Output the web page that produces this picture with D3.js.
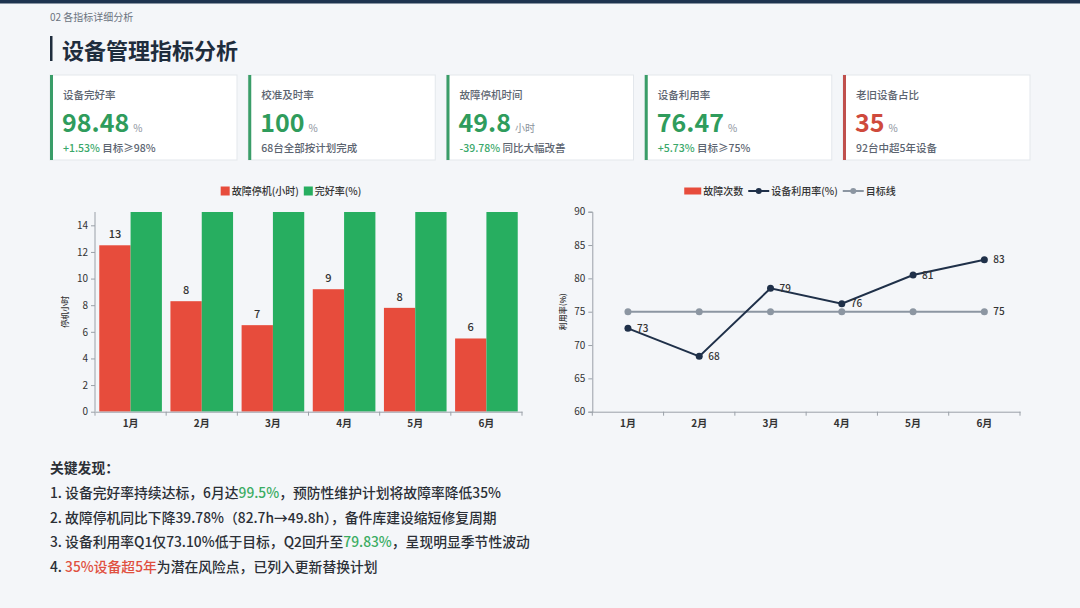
<!DOCTYPE html>
<html>
<head>
<meta charset="utf-8">
<script src="https://cdn.jsdelivr.net/npm/d3@7"></script>
<style>
  html, body { margin: 0; padding: 0; background: #f4f6f9; }
  svg { display: block; font-family: "Noto Sans CJK SC", "Noto Sans", sans-serif; }
</style>
</head>
<body>
<svg id="page" width="1080" height="608"></svg>
<script>
// ---- data ----
var months = ["1月","2月","3月","4月","5月","6月"];
var downtimeHours = [12.5, 8.3, 6.5, 9.2, 7.8, 5.5];
var intactRate = [97.6, 98.2, 98.5, 98.3, 98.8, 99.5];
var utilRate = [72.5, 68.3, 78.5, 76.2, 80.5, 82.8];
var targetLine = [75, 75, 75, 75, 75, 75];
var leftTicks = [0, 2, 4, 6, 8, 10, 12, 14];
var rightTicks = [60, 65, 70, 75, 80, 85, 90];

var kpiLabels = ["设备完好率","校准及时率","故障停机时间","设备利用率","老旧设备占比"];
var kpiValues = ["98.48","100","49.8","76.47","35"];
var kpiUnits = ["%","%","小时","%","%"];
var kpiDelta = ["+1.53%","","-39.78%","+5.73%",""];
var kpiNotes = ["目标≥98%","68台全部按计划完成","同比大幅改善","目标≥75%","92台中超5年设备"];
var kpiAlert = [false,false,false,false,true];

var findings = [
  [["1. 设备完好率持续达标，6月达",""],["99.5%","g"],["，预防性维护计划将故障率降低35%",""]],
  [["2. 故障停机同比下降39.78%（82.7h→49.8h），备件库建设缩短修复周期",""]],
  [["3. 设备利用率Q1仅73.10%低于目标，Q2回升至",""],["79.83%","g"],["，呈现明显季节性波动",""]],
  [["4. ",""],["35%设备超5年","r"],["为潜在风险点，已列入更新替换计划",""]]
];

var RED = "#e74c3c", GREEN = "#27ae60", NAVY = "#1f3049", GREYLINE = "#8c96a2";

var svg = d3.select("#page");

// top bar + header
svg.append("rect").attr("x", 0).attr("y", 0).attr("width", 1080).attr("height", 3.5).attr("fill", "#1e3450");
svg.append("text").attr("x", 50).attr("y", 21).attr("font-size", 10).attr("fill", "#6b7380").text("02 各指标详细分析");
svg.append("rect").attr("x", 50).attr("y", 36).attr("width", 2.5).attr("height", 25).attr("fill", "#1f2d3d");
svg.append("text").attr("x", 62).attr("y", 59).attr("font-size", 22).attr("font-weight", 700)
  .attr("fill", "#1f2d3d").text("设备管理指标分析");

// ---- KPI cards ----
var cardW = 187, cardH = 85;
var cardX = d3.scaleLinear().domain([0, 4]).range([50, 843]);
kpiLabels.forEach(function(label, i) {
  var x = cardX(i), y = 75;
  var g = svg.append("g").attr("transform", "translate(" + x + "," + y + ")");
  g.append("rect").attr("width", cardW).attr("height", cardH).attr("fill", "#fff")
    .attr("stroke", "#e3e7ec").attr("stroke-width", 1);
  g.append("rect").attr("width", 3).attr("height", cardH).attr("fill", kpiAlert[i] ? "#c0504d" : "#3a9d68");
  g.append("text").attr("x", 13).attr("y", 24).attr("font-size", 10.5).attr("font-weight", 500)
    .attr("fill", "#5c6470").text(label);
  var v = g.append("text").attr("x", 12).attr("y", 57).attr("font-size", 25).attr("font-weight", 700)
    .attr("fill", kpiAlert[i] ? "#cf4a3c" : "#2f9c5c").text(kpiValues[i]);
  var vw = v.node().getComputedTextLength();
  g.append("text").attr("x", 12 + vw + 4).attr("y", 57).attr("font-size", 10)
    .attr("fill", "#8a919b").text(kpiUnits[i]);
  var note = g.append("text").attr("x", 13).attr("y", 77).attr("font-size", 10.5).attr("font-weight", 500);
  if (kpiDelta[i]) note.append("tspan").attr("fill", "#3aa86a").text(kpiDelta[i] + " ");
  note.append("tspan").attr("fill", "#5c6470").text(kpiNotes[i]);
});

// legend helper
function legend(items, centerX, cy) {
  var g = svg.append("g");
  var x = 0;
  items.forEach(function(it) {
    if (it.type === "square") {
      g.append("rect").attr("x", x).attr("y", cy - 4.5).attr("width", 9).attr("height", 9).attr("fill", it.color);
      x += 11;
    } else if (it.type === "wide") {
      g.append("rect").attr("x", x).attr("y", cy - 3.5).attr("width", 17).attr("height", 7).attr("fill", it.color);
      x += 19;
    } else {
      g.append("line").attr("x1", x).attr("x2", x + 21).attr("y1", cy).attr("y2", cy)
        .attr("stroke", it.color).attr("stroke-width", 2);
      g.append("circle").attr("cx", x + 10.5).attr("cy", cy).attr("r", 3).attr("fill", it.color);
      x += 23;
    }
    var t = g.append("text").attr("x", x).attr("y", cy + 3.5).attr("font-size", 10).attr("font-weight", 500)
      .attr("fill", "#333").text(it.label);
    x += t.node().getComputedTextLength() + 5;
  });
  var w = x - 5;
  g.attr("transform", "translate(" + (centerX - w / 2) + ",0)");
}

function styleAxis(ax) {
  ax.select(".domain").attr("stroke", "#9aa0a8");
  ax.selectAll(".tick line").attr("stroke", "#9aa0a8");
  ax.selectAll("text").attr("fill", "#333").attr("font-family", "Noto Sans CJK SC, sans-serif");
}

// ---- left chart: downtime + intact rate ----
(function() {
  var left = 95, right = 522, top = 212, bottom = 411.7;
  var x = d3.scaleBand().domain(months).range([left, right]).paddingInner(0.12).paddingOuter(0.06);
  var sub = d3.scaleBand().domain([0, 1]).range([0, x.bandwidth()]);
  var y = d3.scaleLinear().domain([0, 15]).range([bottom, top]);

  svg.append("clipPath").attr("id", "clipL").append("rect")
    .attr("x", left).attr("y", top).attr("width", right - left).attr("height", bottom - top);

  var bars = svg.append("g").attr("clip-path", "url(#clipL)");
  bars.selectAll(".red").data(downtimeHours).enter().append("rect")
    .attr("x", function(d, i) { return x(months[i]) + sub(0); })
    .attr("y", function(d) { return y(d); })
    .attr("width", sub.bandwidth())
    .attr("height", function(d) { return y(0) - y(d); })
    .attr("fill", RED);
  bars.selectAll(".green").data(intactRate).enter().append("rect")
    .attr("x", function(d, i) { return x(months[i]) + sub(1); })
    .attr("y", function(d) { return y(d); })
    .attr("width", sub.bandwidth())
    .attr("height", function(d) { return y(0) - y(d); })
    .attr("fill", GREEN);

  svg.selectAll(".redlbl").data(downtimeHours).enter().append("text")
    .attr("x", function(d, i) { return x(months[i]) + sub(0) + sub.bandwidth() / 2; })
    .attr("y", function(d) { return y(d) - 7; })
    .attr("text-anchor", "middle").attr("font-size", 11).attr("font-weight", 500).attr("fill", "#333")
    .text(function(d) { return Math.round(d); });

  var yAx = svg.append("g").attr("transform", "translate(" + left + ",0)")
    .call(d3.axisLeft(y).tickValues(leftTicks).tickSize(4).tickPadding(3));
  yAx.select(".domain").attr("d", "M0," + bottom + "V" + top);
  yAx.selectAll("text").attr("font-size", 10);
  styleAxis(yAx);

  var xAx = svg.append("g").attr("transform", "translate(0," + bottom + ")")
    .call(d3.axisBottom(x).tickSize(0).tickPadding(8));
  xAx.selectAll("text").attr("font-size", 10).attr("font-weight", 700);
  styleAxis(xAx);
  // boundary ticks between categories
  var bounds = d3.range(months.length + 1).map(function(i) { return left + i * (right - left) / months.length; });
  xAx.selectAll(".bt").data(bounds).enter().append("line")
    .attr("x1", function(d) { return d; }).attr("x2", function(d) { return d; })
    .attr("y1", 0).attr("y2", 4).attr("stroke", "#9aa0a8");

  svg.append("text").attr("transform", "translate(68," + ((top + bottom) / 2) + ") rotate(-90)")
    .attr("text-anchor", "middle").attr("font-size", 8).attr("font-weight", 500).attr("fill", "#333").text("停机小时");

  legend([
    {type: "square", color: RED, label: "故障停机(小时)"},
    {type: "square", color: GREEN, label: "完好率(%)"}
  ], 291, 191);
})();

// ---- right chart: utilisation ----
(function() {
  var left = 592.3, right = 1020, top = 211.7, bottom = 411.7;
  var x = d3.scaleBand().domain(months).range([left, right]);
  var cx = function(i) { return x(months[i]) + x.bandwidth() / 2; };
  var y = d3.scaleLinear().domain([60, 90]).range([bottom, top]);

  var yAx = svg.append("g").attr("transform", "translate(" + left + ",0)")
    .call(d3.axisLeft(y).tickValues(rightTicks).tickSize(4).tickPadding(3));
  yAx.selectAll("text").attr("font-size", 10);
  styleAxis(yAx);

  var xAx = svg.append("g").attr("transform", "translate(0," + bottom + ")")
    .call(d3.axisBottom(x).tickSize(0).tickPadding(8));
  xAx.selectAll("text").attr("font-size", 10).attr("font-weight", 700);
  styleAxis(xAx);
  var bounds = d3.range(months.length + 1).map(function(i) { return left + i * (right - left) / months.length; });
  xAx.selectAll(".bt").data(bounds).enter().append("line")
    .attr("x1", function(d) { return d; }).attr("x2", function(d) { return d; })
    .attr("y1", 0).attr("y2", 4).attr("stroke", "#9aa0a8");

  var line = d3.line().x(function(d, i) { return cx(i); }).y(function(d) { return y(d); });

  svg.append("path").datum(targetLine).attr("d", line).attr("fill", "none")
    .attr("stroke", GREYLINE).attr("stroke-width", 2);
  svg.selectAll(".tdot").data(targetLine).enter().append("circle")
    .attr("cx", function(d, i) { return cx(i); }).attr("cy", function(d) { return y(d); })
    .attr("r", 3.5).attr("fill", GREYLINE);
  svg.append("text").attr("x", cx(targetLine.length - 1) + 9).attr("y", y(targetLine[targetLine.length - 1]) + 3.5)
    .attr("font-size", 10).attr("font-weight", 500).attr("fill", "#333").text(targetLine[targetLine.length - 1]);

  svg.append("path").datum(utilRate).attr("d", line).attr("fill", "none")
    .attr("stroke", NAVY).attr("stroke-width", 2);
  svg.selectAll(".udot").data(utilRate).enter().append("circle")
    .attr("cx", function(d, i) { return cx(i); }).attr("cy", function(d) { return y(d); })
    .attr("r", 3.5).attr("fill", NAVY);
  svg.selectAll(".ulbl").data(utilRate).enter().append("text")
    .attr("x", function(d, i) { return cx(i) + 9; }).attr("y", function(d) { return y(d) + 3.5; })
    .attr("font-size", 10).attr("font-weight", 500).attr("fill", "#333")
    .text(function(d) { return Math.round(d); });

  svg.append("text").attr("transform", "translate(566," + ((top + bottom) / 2) + ") rotate(-90)")
    .attr("text-anchor", "middle").attr("font-size", 8).attr("font-weight", 500).attr("fill", "#333").text("利用率(%)");

  legend([
    {type: "wide", color: RED, label: "故障次数"},
    {type: "line", color: NAVY, label: "设备利用率(%)"},
    {type: "line", color: GREYLINE, label: "目标线"}
  ], 790, 191);
})();

// ---- findings ----
svg.append("text").attr("x", 50).attr("y", 473).attr("font-size", 13.8).attr("font-weight", 700)
  .attr("fill", "#2b2f36").text("关键发现：");
findings.forEach(function(parts, i) {
  var t = svg.append("text").attr("x", 50).attr("y", 498 + i * 24.7).attr("font-size", 13.8)
    .attr("font-weight", 500).attr("fill", "#2b2f36");
  parts.forEach(function(p) {
    var s = t.append("tspan").text(p[0]);
    if (p[1] === "g") s.attr("fill", "#3aac62");
    if (p[1] === "r") s.attr("fill", "#e0503f");
  });
});
</script>
</body>
</html>
